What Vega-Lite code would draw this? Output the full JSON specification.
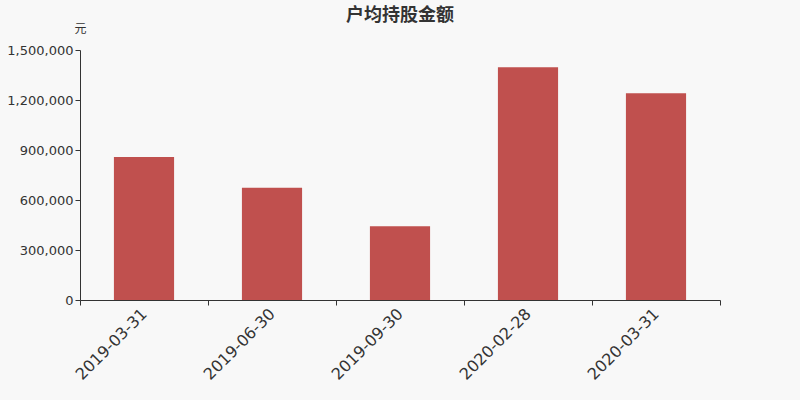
{
  "$schema": "https://vega.github.io/schema/vega-lite/v6.json",
  "width": 640,
  "height": 250,
  "autosize": {"type": "none"},
  "padding": {"left": 80, "top": 50, "right": 80, "bottom": 100},
  "background": "#f8f8f8",
  "title": {
    "text": "户均持股金额",
    "anchor": "middle",
    "offset": -3,
    "fontSize": 18,
    "fontWeight": "bold",
    "font": "Noto Sans CJK SC",
    "color": "#333333"
  },
  "data": {
    "values": [
      {"date": "2019-03-31", "amount": 858000},
      {"date": "2019-06-30", "amount": 674000},
      {"date": "2019-09-30", "amount": 442000},
      {"date": "2020-02-28", "amount": 1396000},
      {"date": "2020-03-31", "amount": 1240000}
    ]
  },
  "mark": {"type": "bar", "color": "#c0504e", "width": {"band": 0.47}},
  "encoding": {
    "x": {
      "field": "date",
      "type": "nominal",
      "sort": null,
      "title": null,
      "scale": {"paddingInner": 0, "paddingOuter": 0},
      "axis": {
        "labelAngle": -45,
        "labelAlign": "right",
        "labelBaseline": "middle",
        "labelFontSize": 16,
        "labelFont": "DejaVu Sans",
        "labelColor": "#333333",
        "labelPadding": 6,
        "tickBand": "extent",
        "tickSize": 5,
        "tickColor": "#333333",
        "domainColor": "#333333"
      }
    },
    "y": {
      "field": "amount",
      "type": "quantitative",
      "title": "元",
      "scale": {"domain": [0, 1500000], "nice": false},
      "axis": {
        "values": [0, 300000, 600000, 900000, 1200000, 1500000],
        "format": ",.0f",
        "grid": false,
        "labelFontSize": 13,
        "labelFont": "DejaVu Sans",
        "labelColor": "#333333",
        "tickSize": 5,
        "tickColor": "#333333",
        "domainColor": "#333333",
        "titleAngle": 0,
        "titleX": 0,
        "titleY": -22,
        "titleAlign": "center",
        "titleBaseline": "middle",
        "titleFontSize": 12,
        "titleFontWeight": "normal",
        "titleFont": "Noto Sans CJK SC",
        "titleColor": "#333333"
      }
    }
  },
  "config": {"view": {"stroke": null}}
}
